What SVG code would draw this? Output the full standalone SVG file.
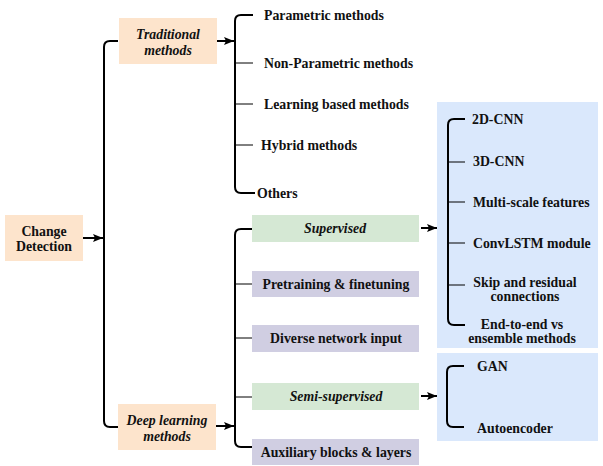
<svg xmlns="http://www.w3.org/2000/svg" width="603" height="466" viewBox="0 0 603 466">
<defs>
<marker id="ah" viewBox="0 0 10 8" refX="10" refY="4" markerWidth="10" markerHeight="8" markerUnits="userSpaceOnUse" orient="auto">
<path d="M0,0 L10,4 L0,8 L2,4 Z" fill="#000"/>
</marker>
</defs>
<style>
text{font-family:"Liberation Serif","DejaVu Serif",serif;font-weight:bold;font-size:13.8px;fill:#111;dominant-baseline:central}
.it{font-style:italic}
.c{text-anchor:middle}
.peach{fill:#fde4cc}
.green{fill:#d5e8d4}
.purple{fill:#d0cee2}
.blue{fill:#dae8fc}
.br{fill:none;stroke:#000;stroke-width:2}
.tk{fill:none;stroke:#000;stroke-width:1}
.ar{fill:none;stroke:#000;stroke-width:2;marker-end:url(#ah)}
</style>
<rect width="603" height="466" fill="#fff"/>
<g id="panels">
<rect class="blue" x="437" y="102" width="161" height="246"/>
<rect class="blue" x="437" y="353" width="161" height="88"/>
</g>
<g id="connectors">
<path class="ar" d="M83,238 H103"/>
<path class="br" d="M118,41 H110 Q104,41 104,47 V421 Q104,427 110,427 H118"/>
<path class="ar" d="M217,41 H234"/>
<path class="br" d="M253,15 H241 Q235,15 235,21 V187 Q235,193 241,193 H255"/>
<path class="tk" d="M235,63 H253 M235,104 H253 M235,145 H253"/>
<path class="ar" d="M216,426 H234"/>
<path class="br" d="M252,229 H241 Q235,229 235,235 V441 Q235,447 241,447 H252"/>
<path class="tk" d="M235,284 H252 M235,338 H252 M235,397 H252"/>
<path class="ar" d="M421,228 H437"/>
<path class="ar" d="M421,396 H437"/>
<path class="br" d="M465,119 H454 Q448,119 448,125 V319 Q448,325 454,325 H465"/>
<path class="tk" d="M448,162 H465 M448,202 H465 M448,243 H465 M448,285 H465"/>
<path class="br" d="M464,366 H453 Q447,366 447,372 V421 Q447,427 453,427 H464"/>
</g>
<g id="change-detection">
<rect class="peach" x="5" y="215" width="78" height="46"/>
<text class="c" x="44" y="231">Change</text>
<text class="c" x="44" y="246">Detection</text>
</g>
<g id="traditional">
<rect class="peach" x="119" y="18" width="98" height="46"/>
<text class="c it" x="168" y="34">Traditional</text>
<text class="c it" x="168" y="50">methods</text>
</g>
<g id="deep-learning">
<rect class="peach" x="118" y="404" width="98" height="46"/>
<text class="c it" x="167" y="420">Deep learning</text>
<text class="c it" x="167" y="436">methods</text>
</g>
<g id="trad-items">
<text x="264" y="15">Parametric methods</text>
<text x="264" y="63">Non-Parametric methods</text>
<text x="264" y="104">Learning based methods</text>
<text x="261" y="145">Hybrid methods</text>
<text x="257" y="193">Others</text>
</g>
<g id="supervised">
<rect class="green" x="252" y="215" width="167" height="27"/>
<text class="c it" x="335" y="228">Supervised</text>
</g>
<g id="pretraining">
<rect class="purple" x="252" y="271" width="167" height="26"/>
<text class="c" x="336" y="284">Pretraining &amp; finetuning</text>
</g>
<g id="diverse">
<rect class="purple" x="252" y="325" width="167" height="27"/>
<text class="c" x="336" y="338">Diverse network input</text>
</g>
<g id="semi-supervised">
<rect class="green" x="252" y="383" width="167" height="27"/>
<text class="c it" x="336" y="396">Semi-supervised</text>
</g>
<g id="auxiliary">
<rect class="purple" x="252" y="439" width="167" height="26"/>
<text class="c" x="336" y="452">Auxiliary blocks &amp; layers</text>
</g>
<g id="supervised-items">
<text x="472" y="119">2D-CNN</text>
<text x="473" y="161">3D-CNN</text>
<text x="473" y="202">Multi-scale features</text>
<text x="473" y="243">ConvLSTM module</text>
<text class="c" x="525" y="282">Skip and residual</text>
<text class="c" x="525" y="296">connections</text>
<text class="c" x="522" y="324">End-to-end vs</text>
<text class="c" x="522" y="338">ensemble methods</text>
</g>
<g id="semi-items">
<text x="477" y="366">GAN</text>
<text x="477" y="428">Autoencoder</text>
</g>
</svg>
